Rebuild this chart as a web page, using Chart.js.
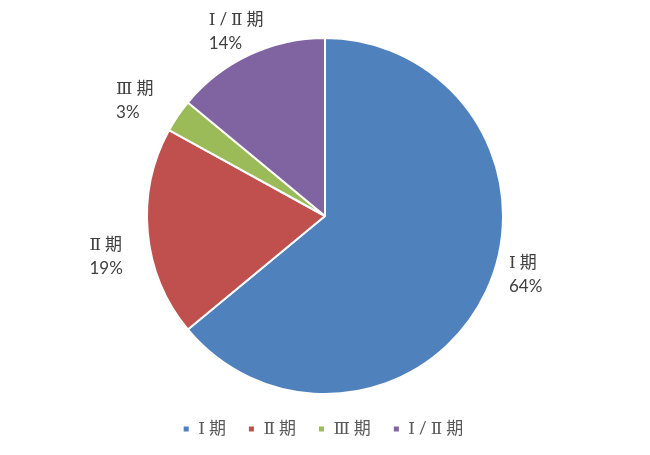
<!DOCTYPE html>
<html>
<head>
<meta charset="utf-8">
<script src="https://cdn.jsdelivr.net/npm/chart.js@4.4.0/dist/chart.umd.min.js"></script>
<style>
  html, body { margin: 0; padding: 0; background: #fff; }
  #wrap { width: 650px; height: 455px; }
</style>
</head>
<body>
<div id="wrap"><canvas id="GraficoEstagios"></canvas></div>
<script>
// dados do grafico
var estagios = ["Ⅰ期", "Ⅱ期", "Ⅲ期", "Ⅰ/Ⅱ期"];
var percentuais = [64, 19, 3, 14];
var cores = ["#4F81BD", "#C0504D", "#9BBB59", "#8064A2"];

var fonte = "Lato, 'DejaVu Serif', 'Noto Sans CJK SC', sans-serif";
var espaco = "4px"; // os numerais romanos do original sao de largura cheia

// espacamento entre letras para a legenda (antes do layout medir o texto)
var espacoLegenda = {
    id: 'espacoLegenda',
    beforeLayout: function (chart) { chart.ctx.letterSpacing = espaco; },
    beforeDraw: function (chart) { chart.ctx.letterSpacing = espaco; }
};

// rotulos fora da pizza (nome + %), com ajuste fino tipo "melhor ajuste" do Excel
var rotulosFora = {
    id: 'rotulosFora',
    afterDatasetsDraw: function (chart, args, opts) {
        var ctx = chart.ctx;
        var arcos = chart.getDatasetMeta(0).data;
        ctx.save();
        ctx.font = "17px " + fonte;
        ctx.fillStyle = "#404040";
        ctx.textBaseline = "middle";
        ctx.textAlign = "left";
        arcos.forEach(function (arco, i) {
            var meio = (arco.startAngle + arco.endAngle) / 2 + (opts.giro[i] || 0) * Math.PI / 180;
            var r = arco.outerRadius + (opts.distancia[i] || 35);
            var cx = arco.x + Math.cos(meio) * r;
            var cy = arco.y + Math.sin(meio) * r;
            var l1 = estagios[i];
            var l2 = percentuais[i] + "%";
            ctx.letterSpacing = espaco;
            var w1 = ctx.measureText(l1).width;
            ctx.letterSpacing = "0px";
            var w2 = ctx.measureText(l2).width;
            var x = cx - Math.max(w1, w2) / 2;
            ctx.fillText(l2, x, cy + 12);
            ctx.letterSpacing = espaco;
            ctx.fillText(l1, x, cy - 12);
        });
        ctx.restore();
    }
};

new Chart(document.getElementById("GraficoEstagios"), {
    type: 'pie',
    data: {
        labels: estagios,
        datasets: [{
            data: percentuais,
            backgroundColor: cores,
            borderColor: "#ffffff",
            borderWidth: 2,
            radius: 178
        }]
    },
    options: {
        responsive: true,
        maintainAspectRatio: false,
        animation: false,
        layout: { padding: { top: 29.5, bottom: 7.5 } },
        plugins: {
            legend: {
                position: 'bottom',
                labels: {
                    boxWidth: 7,
                    boxHeight: 7,
                    padding: 18,
                    color: "#595959",
                    font: { size: 17, family: fonte }
                }
            },
            tooltip: { enabled: false },
            rotulosFora: {
                giro: [-8.9, -5.2, -2.6, 0],
                distancia: [31, 43, 43, 26]
            }
        }
    },
    plugins: [espacoLegenda, rotulosFora]
});
</script>
</body>
</html>
